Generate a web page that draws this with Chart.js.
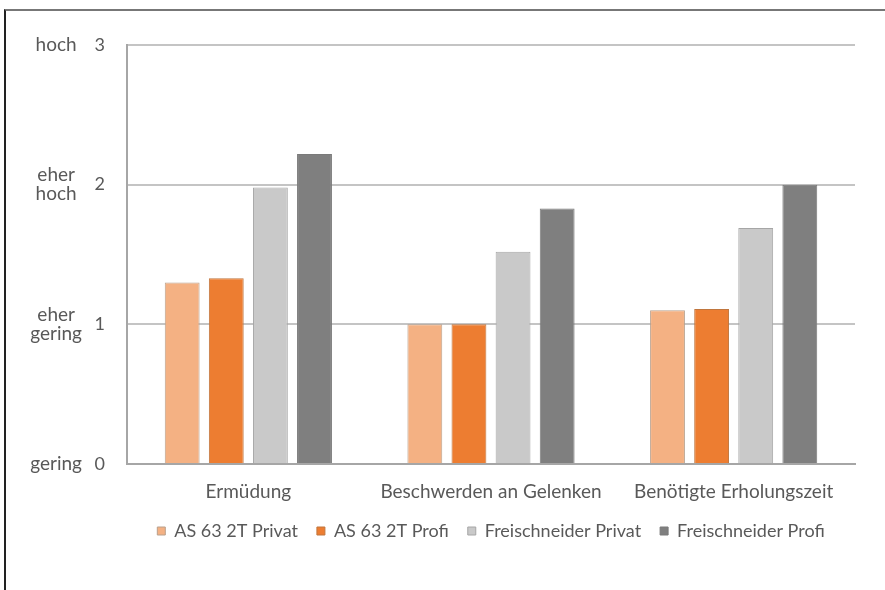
<!DOCTYPE html>
<html>
<head>
<meta charset="utf-8">
<script src="https://cdn.jsdelivr.net/npm/chart.js@4/dist/chart.umd.min.js"></script>
<style>
  body { margin: 0; background: #fff; }
  #frame {
    position: absolute; left: 4px; top: 9px; width: 881px; height: 581px;
    border-left: 2px solid #222; border-top: 2px solid #777; box-sizing: border-box;
  }
  #box { position: relative; width: 879px; height: 579px; }
</style>
</head>
<body>
<div id="frame"><div id="box"><canvas id="myChart"></canvas></div></div>
<script>
const categories = ["Ermüdung", "Beschwerden an Gelenken", "Benötigte Erholungszeit"];
const seriesNames = ["AS 63 2T Privat", "AS 63 2T Profi", "Freischneider Privat", "Freischneider Profi"];
const asPrivat = [1.30, 1.00, 1.10];
const asProfi = [1.33, 1.00, 1.11];
const fsPrivat = [1.98, 1.52, 1.69];
const fsProfi = [2.22, 1.83, 2.00];
const yTickValues = [0, 1, 2, 3];
const yTickWords = [["gering"], ["eher", "gering"], ["eher", "hoch"], ["hoch"]];

const fillColors = ["#F4B183", "#ED7D31", "#C9C9C9", "#7F7F7F"];
const edgeColors = ["#b9a08c", "#c0763e", "#a6a6a6", "#7a7a7a"];
const textColor = "#595959";
const fontFamily = "Lato, 'Noto Sans', sans-serif";

const seriesValues = [asPrivat, asProfi, fsPrivat, fsProfi];

const data = {
  labels: categories,
  datasets: seriesNames.map((name, i) => ({
    label: name,
    data: seriesValues[i],
    backgroundColor: fillColors[i],
    borderColor: edgeColors[i],
    borderWidth: 1,
    categoryPercentage: 0.727,
    barPercentage: 0.79,
    yAxisID: "y",
  })),
};

const config = {
  type: "bar",
  data,
  options: {
    responsive: true,
    maintainAspectRatio: false,
    animation: false,
    layout: { padding: { left: 0, top: 34, right: 30, bottom: 40 } },
    plugins: {
      tooltip: { enabled: false },
      legend: {
        position: "bottom",
        fullSize: false,
        labels: {
          boxWidth: 8,
          boxHeight: 8,
          padding: 19,
          color: textColor,
          font: { family: fontFamily, size: 18 },
        },
      },
    },
    scales: {
      x: {
        grid: { display: false, drawTicks: false },
        border: { display: true, color: "#a6a6a6", width: 2 },
        ticks: { color: textColor, font: { family: fontFamily, size: 19 }, padding: 16 },
        afterFit: (scale) => { scale.height = 39; },
      },
      y: {
        position: "left",
        weight: 0,
        min: 0,
        max: 3,
        afterBuildTicks: (scale) => { scale.ticks = yTickValues.map((v) => ({ value: v })); },
        grid: { color: "#c4c4c4", lineWidth: 2, drawTicks: false },
        border: { display: true, color: "#a6a6a6", width: 2 },
        ticks: { color: textColor, font: { family: fontFamily, size: 18 }, padding: 22 },
        afterFit: (scale) => { scale.width = 38; },
      },
      yw: {
        position: "left",
        weight: 1,
        min: 0,
        max: 3,
        afterBuildTicks: (scale) => { scale.ticks = yTickValues.map((v) => ({ value: v })); },
        grid: { display: false, drawTicks: false },
        border: { display: false },
        ticks: {
          color: textColor,
          crossAlign: "center",
          padding: 7,
          font: { family: fontFamily, size: 19, lineHeight: 1.0 },
          callback: (value) => yTickWords[yTickValues.indexOf(value)],
        },
        afterFit: (scale) => { scale.width = 83; },
      },
    },
  },
};

const myChart = new Chart(document.getElementById("myChart"), config);
</script>
</body>
</html>
